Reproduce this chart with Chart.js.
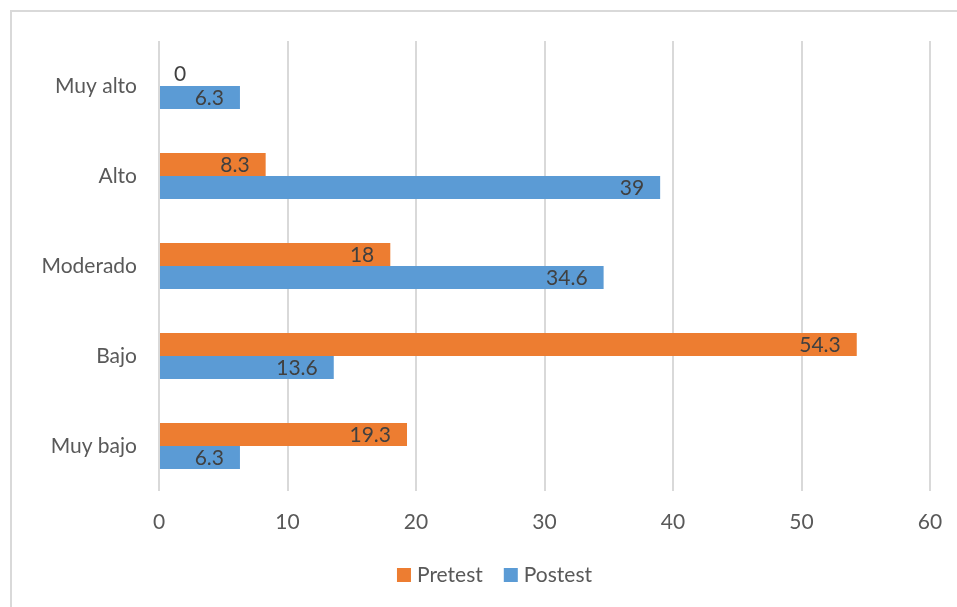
<!DOCTYPE html>
<html>
<head>
<meta charset="utf-8">
<script src="https://cdn.jsdelivr.net/npm/chart.js@4"></script>
<style>
  html, body { margin: 0; padding: 0; background: #fff; }
  #wrap { position: relative; width: 957px; height: 607px; overflow: hidden; }
  #frame { position: absolute; left: 10px; top: 10px; width: 1000px; height: 700px;
           border: 2px solid #d9d9d9; box-sizing: border-box; }
  canvas { position: absolute; left: 0; top: 0; }
</style>
</head>
<body>
<div id="wrap">
  <div id="frame"></div>
  <canvas id="chart" width="957" height="607"></canvas>
</div>
<script>
// Categories top to bottom, as in the reference
const categories = ["Muy alto", "Alto", "Moderado", "Bajo", "Muy bajo"];
const pretest = [0, 8.3, 18, 54.3, 19.3];
const postest = [6.3, 39, 34.6, 13.6, 6.3];
const xTicks = [0, 10, 20, 30, 40, 50, 60];

const FONT = "Lato, 'Open Sans', sans-serif";
const TEXT = "#595959";
const SIZE = 21;

// Excel-style "inside end" value labels
const valueLabels = {
  id: "valueLabels",
  afterDatasetsDraw(chart) {
    const ctx = chart.ctx;
    ctx.save();
    ctx.font = SIZE + "px " + FONT;
    ctx.fillStyle = "#404040";
    ctx.textBaseline = "middle";
    chart.data.datasets.forEach((ds, i) => {
      chart.getDatasetMeta(i).data.forEach((bar, j) => {
        const v = ds.data[j];
        if (v === 0) {
          ctx.textAlign = "left";
          ctx.fillText(String(v), bar.base + 15, bar.y);
        } else {
          ctx.textAlign = "right";
          ctx.fillText(String(v), bar.x - 16, bar.y + 1);
        }
      });
    });
    ctx.restore();
  }
};

// Legend drawn by hand so it can sit slightly right of centre like Excel's
const bottomLegend = {
  id: "bottomLegend",
  afterDraw(chart) {
    const ctx = chart.ctx;
    const box = 14, gapText = 6, gapItem = 21;
    ctx.save();
    ctx.font = SIZE + "px " + FONT;
    ctx.textBaseline = "middle";
    ctx.textAlign = "left";
    const items = chart.data.datasets.map(ds => ({
      text: ds.label, color: ds.backgroundColor, w: ctx.measureText(ds.label).width
    }));
    const total = items.reduce((s, it) => s + box + gapText + it.w, 0) + gapItem * (items.length - 1);
    let x = 494.5 - total / 2;
    const y = 575;
    items.forEach(it => {
      ctx.fillStyle = it.color;
      ctx.fillRect(x, y - box / 2, box, box);
      x += box + gapText;
      ctx.fillStyle = TEXT;
      ctx.fillText(it.text, x, y);
      x += it.w + gapItem;
    });
    ctx.restore();
  }
};

new Chart(document.getElementById("chart"), {
  type: "bar",
  data: {
    labels: categories,
    datasets: [
      { label: "Pretest", data: pretest, backgroundColor: "#ED7D31",
        categoryPercentage: 0.51, barPercentage: 1 },
      { label: "Postest", data: postest, backgroundColor: "#5B9BD5",
        categoryPercentage: 0.51, barPercentage: 1 }
    ]
  },
  options: {
    indexAxis: "y",
    responsive: false,
    animation: false,
    layout: { padding: { top: 41, right: 27, left: 0, bottom: 63 } },
    plugins: {
      tooltip: { enabled: false },
      legend: { display: false }
    },
    scales: {
      x: {
        min: 0,
        max: 60,
        afterBuildTicks: (s) => { s.ticks = xTicks.map(v => ({ value: v })); },
        grid: { color: "#d9d9d9", lineWidth: 2, drawTicks: false },
        border: { display: false },
        ticks: { color: TEXT, font: { family: FONT, size: SIZE }, padding: 19 },
        afterFit: (s) => { s.height = 53; s.paddingLeft = 0; s.paddingRight = 0; }
      },
      y: {
        grid: { display: false },
        border: { display: false },
        ticks: { color: TEXT, font: { family: FONT, size: SIZE }, padding: 14 },
        afterFit: (s) => { s.width = 159; }
      }
    }
  },
  plugins: [valueLabels, bottomLegend]
});
</script>
</body>
</html>
